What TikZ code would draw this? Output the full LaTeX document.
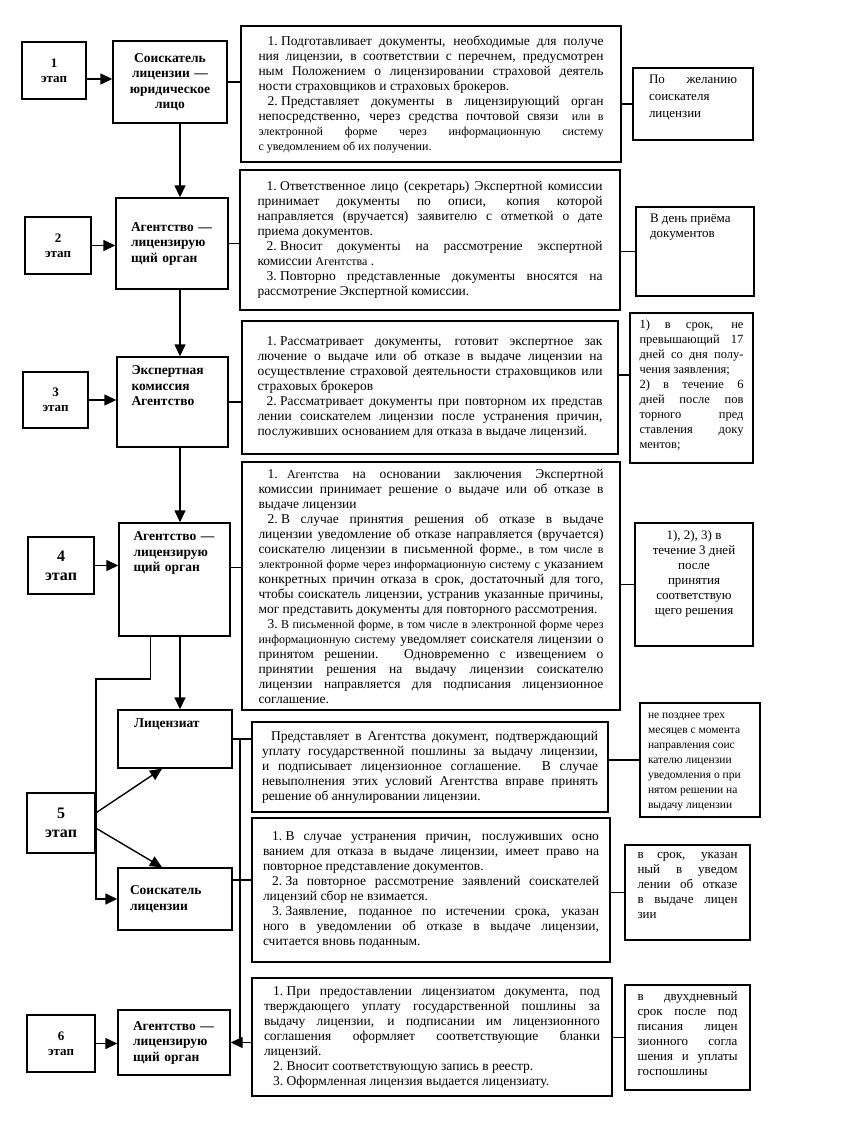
\documentclass[tikz,border=0pt]{standalone}
\usepackage{fontspec}
\setmainfont{Liberation Serif}
\usetikzlibrary{arrows.meta}

\newcommand{\topbox}[3]{\parbox[c][#2][t]{#1}{#3}}
\newcommand{\insfont}{\fontsize{12}{15}\selectfont}
\newcommand{\pnum}[1]{\hspace*{9pt}#1\hspace{3.4pt}}

\tikzset{
  etapbox/.style={draw, line width=1.4pt, font=\bfseries\fontsize{13}{15}\selectfont, align=center},
  partybox/.style={draw, line width=1.4pt, font=\bfseries\fontsize{13.5}{15.5}\selectfont, align=left, text width=82pt, inner sep=0pt},
  dutybox/.style={draw, line width=1.4pt, font=\fontsize{13.5}{15}\selectfont, align=justify, inner sep=0pt},
  termbox/.style={draw, line width=1.4pt, font=\fontsize{13}{15}\selectfont, inner xsep=0pt, inner ysep=7pt},
  link/.style={line width=1.4pt},
  flow/.style={link, -{Triangle[length=12pt,width=11pt]}}
}

\begin{document}
\begin{tikzpicture}[x=1pt, y=-1pt]
\useasboundingbox (0,0) rectangle (847,1123);
\coordinate (spine) at (180,0);
\coordinate (rail) at (240,0);
\coordinate (bypass) at (96,679);

% Stage 1
\node[etapbox, minimum width=64pt, minimum height=57pt] (s1) at (54,70.5) {1\\этап};
\node[partybox, align=center, text width=104pt, minimum width=114pt, minimum height=82pt] (p1) at (170,82) {Соискатель\\лицензии —\\юридическое\\лицо};
\node[dutybox, text width=345pt, minimum width=380pt, minimum height=136pt] (t1) at (431,94) {\pnum{1.}Подготавливает документы, необходимые для получе\linebreak ния лицензии, в соответствии с перечнем, предусмотрен\linebreak ным Положением о лицензировании страховой деятель\linebreak ности страховщиков и страховых брокеров.\\
\pnum{2.}Представляет документы в лицензирующий орган\linebreak непосредственно, через средства почтовой связи\quad{\insfont или в\linebreak электронной форме через информационную систему\linebreak с уведомлением об их получении.}};
\node[termbox, minimum width=120pt, minimum height=72pt] (r1) at (693,104) {\topbox{88pt}{58pt}{\baselineskip=17pt По\hfill желанию\\соискателя\\лицензии}};

% Stage 2
\node[etapbox, minimum width=66pt, minimum height=57pt] (s2) at (58,245.5) {2\\этап};
\node[partybox, minimum width=112pt, minimum height=91pt] (p2) at (172,243.5) {Агентство —\\лицензирую\\щий орган};
\node[dutybox, text width=345pt, minimum width=380pt, minimum height=140pt] (t2) at (430,240) {\pnum{1.}Ответственное лицо (секретарь) Экспертной комиссии\linebreak принимает документы по описи, копия которой\linebreak направляется (вручается) заявителю с отметкой о дате\linebreak приема документов.\\
\pnum{2.}Вносит документы на рассмотрение экспертной\linebreak комиссии {\insfont Агентства} .\\
\pnum{3.}Повторно представленные документы вносятся на\linebreak рассмотрение Экспертной комиссии.};
\node[termbox, minimum width=118pt, minimum height=89pt] (r2) at (695,251.5) {\topbox{90pt}{75pt}{В день приёма\\документов}};

% Stage 3
\node[etapbox, minimum width=65pt, minimum height=56pt] (s3) at (55.5,400) {3\\этап};
\node[partybox, inner ysep=9pt, minimum width=111pt, minimum height=90pt] (p3) at (172.5,402) {\topbox{82pt}{72pt}{Экспертная\\комиссия\\Агентство}};
\node[dutybox, text width=345pt, minimum width=376pt, minimum height=133pt] (t3) at (430,387.5) {\pnum{1.}Рассматривает документы, готовит экспертное зак\linebreak лючение о выдаче или об отказе в выдаче лицензии на\linebreak осуществление страховой деятельности страховщиков или\linebreak страховых брокеров\\
\pnum{2.}Рассматривает документы при повторном их представ\linebreak лении соискателем лицензии после устранения причин,\linebreak послуживших основанием для отказа в выдаче лицензий.};
\node[termbox, font=\fontsize{12.5}{15}\selectfont, minimum width=123pt, minimum height=150pt] (r3) at (691.5,388) {\topbox{104pt}{136pt}{1) в срок, не\linebreak превышающий 17\linebreak дней со дня полу-\linebreak чения заявления;\\2) в течение 6\linebreak дней после пов\linebreak торного пред\linebreak ставления доку\linebreak ментов;}};

% Stage 4
\node[etapbox, font=\bfseries\fontsize{16}{19}\selectfont, minimum width=66pt, minimum height=57pt] (s4) at (61,565.5) {4\\этап};
\node[partybox, inner ysep=9pt, minimum width=111pt, minimum height=113pt] (p4) at (174.5,579.5) {\topbox{82pt}{95pt}{Агентство —\\лицензирую\\щий орган}};
\node[dutybox, text width=345pt, minimum width=378pt, minimum height=248pt] (t4) at (431,586) {\pnum{1.}\hspace{6pt}{\insfont Агентства} на основании заключения Экспертной\linebreak комиссии принимает решение о выдаче или об отказе в\linebreak выдаче лицензии\\
\pnum{2.}В случае принятия решения об отказе в выдаче\linebreak лицензии уведомление об отказе направляется (вручается)\linebreak соискателю лицензии в письменной форме.{\insfont, в том числе в\linebreak электронной форме через информационную систему с} указанием\linebreak конкретных причин отказа в срок, достаточный для того,\linebreak чтобы соискатель лицензии, устранив указанные причины,\linebreak мог представить документы для повторного рассмотрения.\\
\pnum{3.}{\insfont В письменной форме, в том числе в электронной форме через\linebreak информационную систему} уведомляет соискателя лицензии о\linebreak принятом решении. Одновременно с извещением о\linebreak принятии решения на выдачу лицензии соискателю\linebreak лицензии направляется для подписания лицензионное\linebreak соглашение.};
\node[termbox, minimum width=118pt, minimum height=123pt] (r4) at (694,584.5) {\topbox{100pt}{109pt}{\centering 1), 2), 3) в\\течение 3 дней\\после\\принятия\\соответствую\\щего решения}};

% Stage 5
\node[etapbox, font=\bfseries\fontsize{16}{19}\selectfont, minimum width=68pt, minimum height=60pt] (s5) at (61,823) {5\\этап};
\node[partybox, inner ysep=9pt, minimum width=114pt, minimum height=58pt] (p5a) at (175,739) {\topbox{82pt}{40pt}{Лицензиат}};
\node[partybox, text width=90pt, minimum width=114pt, minimum height=62pt] (p5b) at (175,899) {Соискатель\\лицензии};
\node[dutybox, text width=336pt, minimum width=356pt, minimum height=90pt] (t5a) at (430,767) {\hspace*{9pt}Представляет в Агентства документ, подтверждающий\linebreak уплату государственной пошлины за выдачу лицензии,\linebreak и подписывает лицензионное соглашение. В случае\linebreak невыполнения этих условий Агентства вправе принять\linebreak решение об аннулировании лицензии.};
\node[termbox, inner ysep=10pt, minimum width=120pt, minimum height=114pt] (r5a) at (700,760) {\topbox{104pt}{94pt}{\fontsize{11.5}{15}\selectfont не позднее трех\\месяцев с момента\\направления соис\\кателю лицензии\\уведомления о при\\нятом решении на\\выдачу лицензии}};
\node[dutybox, text width=336pt, minimum width=358pt, minimum height=144pt] (t5b) at (431,890) {\pnum{1.}В случае устранения причин, послуживших осно\linebreak ванием для отказа в выдаче лицензии, имеет право на\linebreak повторное представление документов.\\
\pnum{2.}За повторное рассмотрение заявлений соискателей\linebreak лицензий сбор не взимается.\\
\pnum{3.}Заявление, поданное по истечении срока, указан\linebreak ного в уведомлении об отказе в выдаче лицензии,\linebreak считается вновь поданным.};
\node[termbox, minimum width=125pt, minimum height=95pt] (r5b) at (687.5,892.5) {\topbox{100pt}{81pt}{в срок, указан\linebreak ный в уведом\linebreak лении об отказе\linebreak в выдаче лицен\linebreak зии}};

% Stage 6
\node[etapbox, minimum width=68pt, minimum height=57pt] (s6) at (61,1043.5) {6\\этап};
\node[partybox, minimum width=112pt, minimum height=65pt] (p6) at (174,1042.5) {Агентство —\\лицензирую\\щий орган};
\node[dutybox, text width=336pt, minimum width=360pt, minimum height=118pt] (t6) at (432,1037) {\pnum{1.}При предоставлении лицензиатом документа, под\linebreak тверждающего уплату государственной пошлины за\linebreak выдачу лицензии, и подписании им лицензионного\linebreak соглашения оформляет соответствующие бланки\linebreak лицензий.\\
\pnum{2.}Вносит соответствующую запись в реестр.\\
\pnum{3.}Оформленная лицензия выдается лицензиату.};
\node[termbox, minimum width=125pt, minimum height=105pt] (r6) at (687.5,1037.5) {\topbox{100pt}{91pt}{в двухдневный\linebreak срок после под\linebreak писания лицен\linebreak зионного согла\linebreak шения и уплаты\linebreak госпошлины}};

% Arrows
\draw[flow] ([yshift=-8.5pt]s1.east) -- ([yshift=-8.5pt]s1.east -| p1.west);
\foreach \i in {2,3,4,6}
  \draw[flow] (s\i.east) -- (s\i.east -| p\i.west);
\foreach \a/\b in {p1/p2, p2/p3, p3/p4, p4/p5a}
  \draw[flow] (\a.south -| spine) -- (\b.north -| spine);
\draw[flow] ([xshift=-24pt]p4.south) |- (bypass) |- (p5b.west);
\draw[flow] ([yshift=10pt]s5.east) -- ([xshift=-13pt]p5a.south);
\draw[flow] ([yshift=-5pt]s5.east) -- ([xshift=-13pt]p5b.north);
\draw[link] (p5a.east -| rail) -- (p6.east -| rail);
\draw[flow] (t6.west |- p6.east) -- (p6.east);

% Links
\foreach \i in {1,2,3,5a}
  \draw[link] (p\i.east) -- (p\i.east -| t\i.west);
\draw[link] ([yshift=12pt]p4.east) -- ([yshift=12pt]p4.east -| t4.west);
\draw[link] ([yshift=19pt]p5b.east) -- ([yshift=19pt]p5b.east -| t5b.west);
\foreach \i in {1,2,4,5a,5b,6}
  \draw[link] (r\i.west -| t\i.east) -- (r\i.west);
\draw[link] ([yshift=13pt]r3.west -| t3.east) -- ([yshift=13pt]r3.west);
\end{tikzpicture}
\end{document}
